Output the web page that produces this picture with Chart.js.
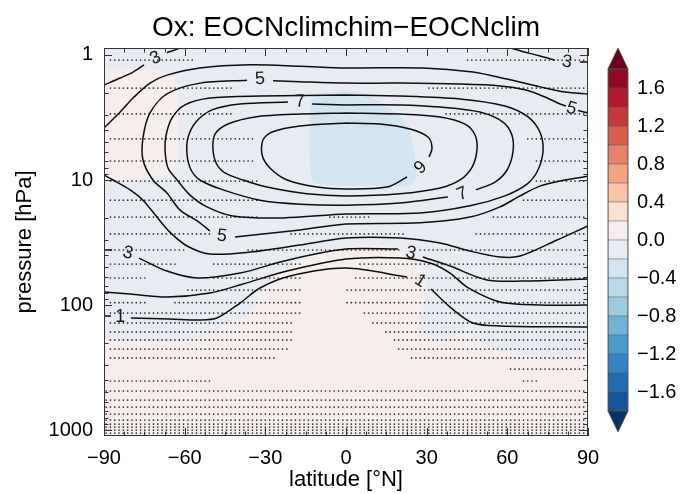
<!DOCTYPE html>
<html><head><meta charset="utf-8">
<script src="https://cdn.jsdelivr.net/npm/chart.js@4.4.1/dist/chart.umd.min.js"></script>
<style>
html,body{margin:0;padding:0;background:#fff;}
#wrap{position:relative;width:683px;height:494px;overflow:hidden;}
#main{position:absolute;left:0;top:0;}
#cb{position:absolute;left:600px;top:0;}
</style></head><body>
<div id="wrap"><canvas id="main" width="683" height="494"></canvas><canvas id="cb" width="83" height="494"></canvas></div>
<script>
// ---------------- data ----------------
const titleText = 'Ox: EOCNclimchim\u2212EOCNclim';
const xTickLabels = [-90, -60, -30, 0, 30, 60, 90];
const yTickLabels = [1, 10, 100, 1000];
const cbBounds = [-1.8,-1.6,-1.4,-1.2,-1.0,-0.8,-0.6,-0.4,-0.2,0,0.2,0.4,0.6,0.8,1.0,1.2,1.4,1.6,1.8];
const cbTicks = [-1.6,-1.2,-0.8,-0.4,0,0.4,0.8,1.2,1.6];
const cbColors = ['#15569a','#226dae','#3584bf','#4d9bc9','#73b2d5','#9ccae0','#badaeb','#d3e5f0','#e8ecf2',
                  '#f6eeee','#fde0d0','#f8c3a6','#f3a481','#e4826a','#d6604d','#c43a3a','#b2182b','#8e0b25'];
const cbLow = '#073466', cbHigh = '#6a0220';
const bgFill = '#e8ecf2';   // -0.2 .. 0.0 everywhere else

// filled difference regions [lat, hPa]
const pinkA = [[-91,1.32],[-76.6,1.29],[-67.3,1.37],[-63.2,1.64],[-62.5,2.29],[-62.5,6.92],[-64.3,8.63],[-69.2,9.29],[-91,9.29],[-91,1.32]];
const blueB = [[-11.5,2.01],[3.3,1.98],[8.2,2.13],[14.5,2.51],[21.9,3.44],[24.9,5.25],[26,9.64],[23.8,11],[12.6,11.2],[-10.4,10.8],[-13,9.3],[-13.4,2.75],[-12.6,2.17],[-11.5,2.01]];
const pinkC = [[-91,1300],[-91,198],[-76.6,198],[-61.7,194],[-52.4,177],[-45,144.5],[-35.7,114],[-32.7,88],[-30.1,69],[-22.7,52.5],[-11.5,38.4],[0,34.4],[10.8,33.1],[18.2,35],[24.5,41.3],[29.4,57.5],[29.4,91],[27.5,127],[27.5,158],[32,184],[37.9,184],[43.1,171],[49.8,198],[59.1,238],[72.1,256],[85.2,247],[91,221],[91,1300],[-91,1300]];

// contour lines [lat, hPa], null = gap for label
const c1 = [[-90,122.5],[-87.4,122.5],null,[-80,127],[-65.5,129.4],[-54.3,131.8],[-48,127],[-39.4,96.4],[-32,73.1],[-20.8,58.6],[0,50.6],[22.7,59.7],null,[31.6,74.5],[38.7,103.8],[47.2,139.3],[57.3,147],[90,150]];
const c2 = [[-90,78.7],[-80.3,81.7],[-66.6,86.3],[-50.6,80.2],[-38.3,67.9],[-21.9,53.5],[0,42.9],[20.1,42.1],[31.2,46.1],[38.7,55.5],[45,71.8],[57.3,94.6],[72.1,100],[90,100]];
const c3W = [[-90,1.74],[-84,1.53],[-79.2,1.37],[-75.1,1.2],null,[-66.6,0.96],[-61.7,0.88],[-59.5,0.83]];
const c3E = [[58,0.83],[62.8,0.9],[72.1,1.02],[77.7,1.1],null,[87,1.14],[90.7,1.14]];
const c3L = [[-90,36.3],[-87,36.3],null,[-77,42.1],[-66.6,53.5],[-55.4,60.8],[-39.4,55.5],[-24.5,45.3],[-9.7,38.4],[0,35.6],[19.3,35.6],null,[28.6,41.3],[38.7,48.8],[52.4,63.1],[65.8,64.3],[90,61.9]];
const c4U = [[-90,3.84],[-84,2.86],[-79.2,2.21],[-72.9,1.68],[-66.6,1.45],[-54.3,1.27],[-35.7,1.2],[-17.1,1.23],[0,1.27],[28.6,1.27],[47.2,1.37],[59.9,1.56],[72.1,1.8],[81.4,1.98],[90,2.05]];
const c4L = [[-90,9.12],[-86.6,10],[-80.3,12.0],[-75.5,14.5],[-70.3,19.8],[-65.5,26.1],[-59.1,33.7],[-50.6,39.1],[-35.7,37.7],[-17.1,33.1],[0,29.1],[20.1,29.1],[35,31.9],[46.1,37],[57.3,41.3],[64.7,40.6],[78.5,30.2],[90,23.3]];
const c5 = [[90.7,2.93],[86.3,2.78],null,[81.8,2.56],[79.6,2.47],[74,2.17],[66.6,1.9],[57.3,1.77],[42.4,1.71],[20.1,1.68],[0,1.68],[-17.1,1.64],[-27.1,1.61],null,[-36.8,1.59],[-54.3,1.68],[-66.6,2.05],[-72.9,2.91],[-75.5,4.61],[-75.5,6.92],[-71.8,10],[-66.6,12.7],[-61.7,17.4],[-54.7,21.7],[-50.6,25.6],null,[-41.3,28.6],[-17.1,25.1],[0,22.5],[27.5,22],[46.1,19.8],[57.3,16.4],[64.7,13.4],[72.1,11.2],[79.6,10.2],[90.7,9.29]];
const c6 = [[0,2.09],[-32,2.13],[-50.6,2.21],[-59.9,2.51],[-64.7,3.19],[-66.9,4.37],[-67.3,5.75],[-66.2,8.02],[-62.8,10],[-58,13.2],[-51.7,16.4],[-42,19.4],[-23.4,20.1],[0,18.7],[27.5,18.4],[46.1,16.1],[59.1,13.4],[67.3,10.8],[71.4,8.32],[73.3,5.75],[72.1,4.13],[67.7,3.13],[59.1,2.56],[42.4,2.25],[20.1,2.13],[0,2.09]];
const c7 = [[0,2.51],[-12.6,2.47],null,[-21.6,2.38],[-39.4,2.47],[-49.8,2.75],[-55.8,3.44],[-58.8,4.61],[-59.1,6.31],[-57.6,8.32],[-54.3,10],[-45.7,12],[-32,14.5],[-17.1,15.6],[0,15.9],[20.1,15.3],[37.9,13.7],null,[48.3,12],[55.4,10.4],[59.9,8.32],[62.1,5.97],[61.7,4.37],[58.4,3.44],[49.8,2.86],[35,2.61],[20.1,2.51],[0,2.51]];
const c8 = [[0,2.91],[-17.1,2.97],[-33.8,3.13],[-43.9,3.57],[-48.7,4.29],[-49.5,5.55],[-48.3,7.31],[-45,8.79],[-38.3,10],[-29.4,11.4],[-14.5,12.9],[0,13.4],[20.1,12.9],[35,11.6],[42.4,10],[46.9,7.88],[48.7,5.75],[48,4.37],[44.3,3.57],[35,3.13],[20.1,2.97],[0,2.91]];
const c9 = [[0,3.5],[-17.1,3.7],[-27.5,4.13],[-30.9,4.79],[-31.2,6.31],[-28.3,8.02],[-21.9,10],[-10.8,11.4],[0,11.8],[15.2,11.4],[22.7,9.46],null,[30.9,6.55],[32,5.54],[30.5,4.53],[23.8,3.91],[12.6,3.57],[0,3.5]];

// contour labels [lat, hPa, text, rotation deg]
const contourLabels = [
  [-71.0,1.04,'3',-26],[82.2,1.12,'3',8],[-32.0,1.53,'5',-3],[84.0,2.65,'5',17],
  [-17.1,2.33,'7',-3],[27.5,7.88,'9',-42],[43.1,12.7,'7',-22],[-46.1,27.5,'5',8],
  [-81.1,37.7,'3',14],[24.2,37.7,'3',14],[-84.0,122.5,'1',0],[27.9,63.1,'1',32]
];

// stippled model levels (hPa) and latitude spans of stippling on each
const stipLevels = [1.1,1.84,2.96,4.69,7.05,10.2,14.5,19.8,27.0,36.3,47.0,60.8,75.9,95.8,116,139,164,190,225,265,325,405,487,575,655,745,832,895,946,1000,1057];
const FULL = [[-90,90]];
const stipSpans = [
  [[-88.5,-56.2],[44.3,88.9]],
  [[-88.5,-42.4],[30.5,88.9]],
  [[-88.5,-42.4],[36.1,88.9]],
  [[-88.5,-34.6],[66.6,88.9]],
  [[-88.5,-34.6],[70.3,88.9]],
  [[-88.5,-33.1],[70.3,88.9]],
  [[-88.5,-33.1],[64.7,88.9]],
  [[-88.5,-33.1],[-7.1,8.9],[53.6,88.9]],
  [[-88.5,-50.6],[-21.9,21.9],[47.2,88.9]],
  [[-88.5,-59.1],[-36.8,20.1],[27.5,88.9]],
  [[-88.5,-62.8],[-50.6,-16],[4.1,88.9]],
  [[-88.5,-74],[-50.6,-16],[2.6,88.9]],
  [[-59.9,-16],[0.4,88.9]],
  [[-88.5,-74],[-64.3,-17.1],[0.4,88.9]],
  [[-88.5,-17.1],[6.3,88.9]],
  [[-88.5,-19.7],[10,88.9]],
  [[-88.5,-19.7],[13.8,88.9]],
  [[-88.5,-19.7],[17.5,88.9]],
  [[-88.5,-20.8],[19.3,88.9]],
  [[-88.5,-25.3],[23.1,88.9]],
  [[61,88.9]],
  [[-88.5,-49.8],[64.7,71]],
  FULL,FULL,FULL,FULL,FULL,FULL,FULL,FULL,FULL
];
const stipStep = 1.6; // model grid spacing (deg)

// ---------------- build chart ----------------
const FONT = '"Liberation Sans", Arial, Helvetica, sans-serif';
Chart.defaults.font.family = FONT;
Chart.defaults.color = '#000';

const toPts = arr => arr.map(p => p ? {x:p[0], y:p[1]} : {x:null, y:null});
const stipDots = [];
stipLevels.forEach((p, i) => {
  stipSpans[i].forEach(([a, b]) => {
    for (let k = 0; ; k++) {
      const lat = -90 + stipStep / 2 + k * stipStep;
      if (lat > b) break;
      if (lat >= a) stipDots.push({x: lat, y: p});
    }
  });
});

const datasets = [];
[[pinkA,'#f6eded'],[blueB,'#d3e5f0'],[pinkC,'#f6eded']].forEach(([poly,col]) => {
  datasets.push({data: toPts(poly), showLine: true, fill: 'shape', backgroundColor: col,
    borderWidth: 0, borderColor: 'rgba(0,0,0,0)', pointRadius: 0, tension: 0.35, order: 10});
});
datasets.push({data: stipDots, showLine: false, pointRadius: 0.85, pointStyle: 'circle',
  backgroundColor: '#2e2e2e', borderWidth: 0, order: 5});
[c1,c2,c3W,c3E,c3L,c4U,c4L,c5,c6,c7,c8,c9].forEach(c => {
  datasets.push({data: toPts(c), showLine: true, fill: false, borderColor: '#0d0d0d', borderWidth: 1.5,
    pointRadius: 0, tension: 0.3, spanGaps: false, order: 1});
});

const fmtX = v => (v < 0 ? '\u2212' + Math.abs(v) : String(v));

const decor = {
  id: 'decor',
  beforeDatasetsDraw(chart) {
    const {ctx, chartArea: a} = chart;
    ctx.save(); ctx.fillStyle = bgFill;
    ctx.fillRect(a.left, a.top, a.right - a.left, a.bottom - a.top); ctx.restore();
  },
  afterDatasetsDraw(chart) {
    const {ctx, chartArea: a, scales: {x, y}} = chart;
    ctx.save();
    ctx.beginPath(); ctx.rect(a.left, a.top, a.right - a.left, a.bottom - a.top); ctx.clip();
    ctx.fillStyle = '#1a1a1a';
    ctx.font = '18px ' + FONT;
    ctx.textAlign = 'center'; ctx.textBaseline = 'middle';
    contourLabels.forEach(([lat, p, t, r]) => {
      const px = x.getPixelForValue(lat), py = y.getPixelForValue(p);
      ctx.save(); ctx.translate(px, py); ctx.rotate(r * Math.PI / 180);
      ctx.fillText(t, 0, 1); ctx.restore();
    });
    ctx.restore();
  },
  afterDraw(chart) {
    const {ctx, chartArea: a, scales: {x, y}} = chart;
    ctx.save();
    ctx.strokeStyle = '#333'; ctx.lineWidth = 1;
    ctx.beginPath();
    for (let v = -90; v <= 90.001; v += 7.5) {
      const px = Math.round(x.getPixelForValue(v)) + 0.5;
      const len = (Math.abs(v % 30) < 1e-6) ? 8 : 4.5;
      ctx.moveTo(px, a.top); ctx.lineTo(px, a.top + len);
      ctx.moveTo(px, a.bottom); ctx.lineTo(px, a.bottom - len);
    }
    for (let d = 1; d <= 1000; d *= 10) {
      for (let m = 1; m <= 9; m++) {
        const v = m * d;
        if (v < y.min || v > y.max) continue;
        const py = Math.round(y.getPixelForValue(v)) + 0.5;
        const len = m === 1 ? 8 : 4.5;
        ctx.moveTo(a.left, py); ctx.lineTo(a.left + len, py);
        ctx.moveTo(a.right, py); ctx.lineTo(a.right - len, py);
      }
    }
    ctx.stroke();
    ctx.strokeStyle = '#333';
    ctx.strokeRect(Math.round(a.left) + 0.5, Math.round(a.top) + 0.5, Math.round(a.right - a.left) - 1, Math.round(a.bottom - a.top) - 1);
    ctx.restore();
  }
};

new Chart(document.getElementById('main'), {
  type: 'scatter',
  data: {datasets},
  options: {
    responsive: false, animation: false, events: [],
    layout: {padding: {left: 0, right: 95, top: 0, bottom: 0}},
    plugins: {
      legend: {display: false}, tooltip: {enabled: false},
      title: {display: true, text: titleText, fullSize: false, color: '#000',
        font: {size: 28, weight: 'normal', family: FONT}, padding: {top: 11, bottom: 3.4}}
    },
    scales: {
      x: {type: 'linear', min: -90, max: 90, position: 'bottom',
        grid: {display: false, drawTicks: false}, border: {display: false},
        afterBuildTicks: s => { s.ticks = xTickLabels.map(v => ({value: v})); },
        ticks: {padding: 10, font: {size: 20}, color: '#000', callback: v => fmtX(v), maxRotation: 0, autoSkip: false},
        title: {display: true, text: 'latitude [\u00b0N]', font: {size: 22}, color: '#000', padding: {top: 0, bottom: 1}},
        afterFit: s => { s.height = 58; }
      },
      y: {type: 'logarithmic', reverse: true, min: 0.88, max: 1115, position: 'left',
        grid: {display: false, drawTicks: false}, border: {display: false},
        afterBuildTicks: s => { s.ticks = yTickLabels.map(v => ({value: v})); },
        ticks: {padding: 11, font: {size: 20}, color: '#000', callback: v => String(v), autoSkip: false},
        title: {display: true, text: 'pressure [hPa]', font: {size: 22}, color: '#000', padding: {top: 12, bottom: 0}},
        afterFit: s => { s.width = 104; }
      }
    }
  },
  plugins: [decor]
});

// ---------------- colour bar ----------------
const fmtCb = v => { const s = Math.abs(v).toFixed(1); return v < -1e-9 ? '\u2212' + s : s; };
const cbTri = {
  id: 'cbTri',
  afterDatasetsDraw(chart) {
    const {ctx, chartArea: a} = chart;
    const mid = (a.left + a.right) / 2, h = 21;
    ctx.save(); ctx.strokeStyle = '#4a4a4a'; ctx.lineWidth = 0.8;
    ctx.beginPath(); ctx.moveTo(a.left, a.top); ctx.lineTo(a.right, a.top); ctx.lineTo(mid, a.top - h); ctx.closePath();
    ctx.fillStyle = cbHigh; ctx.fill(); ctx.stroke();
    ctx.beginPath(); ctx.moveTo(a.left, a.bottom); ctx.lineTo(a.right, a.bottom); ctx.lineTo(mid, a.bottom + h); ctx.closePath();
    ctx.fillStyle = cbLow; ctx.fill(); ctx.stroke();
    ctx.strokeRect(a.left, a.top, a.right - a.left, a.bottom - a.top);
    ctx.restore();
  }
};
new Chart(document.getElementById('cb'), {
  type: 'bar',
  data: {labels: ['cb'], datasets: cbColors.map((c, i) => ({
    data: [[cbBounds[i], cbBounds[i + 1]]], backgroundColor: c, borderColor: '#5a5a5a', borderWidth: 0.6,
    borderSkipped: false, grouped: false, barPercentage: 1, categoryPercentage: 1}))},
  options: {
    responsive: false, animation: false, events: [],
    layout: {padding: {left: 8, top: 69, bottom: 83, right: 0}},
    plugins: {legend: {display: false}, tooltip: {enabled: false}, title: {display: false}},
    scales: {
      x: {display: false},
      y: {position: 'right', min: -1.8, max: 1.8,
        grid: {display: false, drawTicks: false}, border: {display: false},
        afterBuildTicks: s => { s.ticks = cbTicks.map(v => ({value: v})); },
        ticks: {padding: 9, font: {size: 20}, color: '#000', callback: v => fmtCb(v), autoSkip: false},
        afterFit: s => { s.width = 55; }
      }
    }
  },
  plugins: [cbTri]
});
</script>
</body></html>
